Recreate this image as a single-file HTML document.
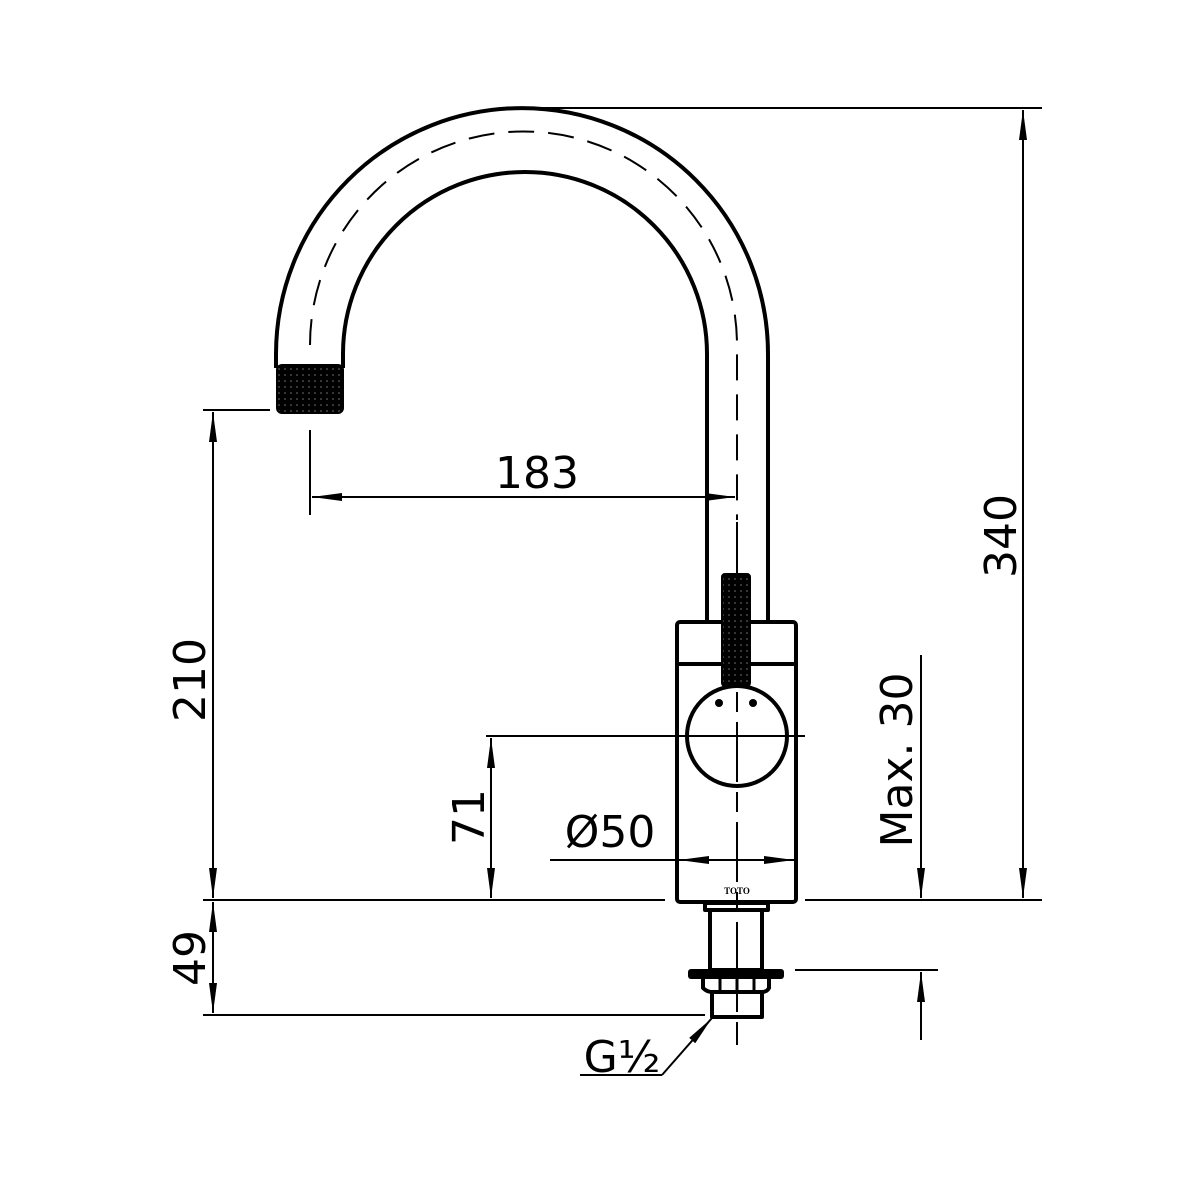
<!DOCTYPE html>
<html><head><meta charset="utf-8"><style>body{margin:0;background:#fff}svg{display:block}</style></head><body>
<svg width="1200" height="1189" viewBox="0 0 1200 1189" xmlns="http://www.w3.org/2000/svg" font-family="DejaVu Sans, Liberation Sans, sans-serif">
<defs>
<pattern id="dots" width="6" height="6" patternUnits="userSpaceOnUse"><rect width="6" height="6" fill="#000"/><circle cx="3" cy="3" r="0.8" fill="#777"/></pattern>
<marker id="ar" viewBox="0 0 30 10" refX="30" refY="5" markerWidth="30" markerHeight="10" markerUnits="userSpaceOnUse" orient="auto-start-reverse"><path d="M0,1 L30,5 L0,9 z" fill="#000"/></marker>
</defs>
<g fill="none" stroke="#000" stroke-width="4" stroke-linejoin="round">
<path d="M276,368 L276,354 A246,246 0 0 1 768,354 L768,622"/>
<path d="M343,368 L343,354 A182,182 0 0 1 707,354 L707,622"/>
</g>
<path d="M310,345 A213.5,213.5 0 0 1 737,345 L737,520" fill="none" stroke="#000" stroke-width="2" stroke-dasharray="26,14"/>
<rect x="277" y="365" width="66" height="48" rx="5" fill="url(#dots)" stroke="#000" stroke-width="2"/>
<rect x="677" y="622" width="119" height="280" rx="3" fill="#fff" stroke="#000" stroke-width="4"/>
<line x1="677" y1="664" x2="796" y2="664" stroke="#000" stroke-width="4"/>
<circle cx="737" cy="736" r="50" fill="#fff" stroke="#000" stroke-width="4"/>
<rect x="722" y="574" width="28" height="112" rx="3" fill="url(#dots)" stroke="#000" stroke-width="2"/>
<circle cx="719" cy="703" r="4" fill="#000"/><circle cx="753" cy="703" r="4" fill="#000"/>
<text x="737" y="894" font-size="9" font-weight="bold" text-anchor="middle" font-family="Liberation Serif, serif">TOTO</text>
<g fill="#fff" stroke="#000" stroke-width="4" stroke-linejoin="round">
<rect x="705" y="903" width="63" height="7"/>
<rect x="710" y="910" width="52" height="60"/>
<rect x="712" y="990" width="50" height="27"/>
<path d="M703,978 L703,988 Q707,992 712,992 L762,992 Q767,992 769,988 L769,978"/>
</g>
<rect x="688" y="969" width="96" height="10" rx="3" fill="#000"/>
<g stroke="#000" stroke-width="3"><line x1="720" y1="979" x2="720" y2="990"/><line x1="737" y1="979" x2="737" y2="990"/><line x1="754" y1="979" x2="754" y2="990"/></g>
<g stroke="#000" stroke-width="2">
<line x1="310" y1="430" x2="310" y2="515"/>
<line x1="737" y1="522" x2="737" y2="1045" stroke-dasharray="60,10,20,10"/>
<line x1="486" y1="736" x2="805" y2="736"/>
<line x1="540" y1="108" x2="1042" y2="108"/>
<line x1="203" y1="410" x2="270" y2="410"/>
<line x1="203" y1="900" x2="665" y2="900"/>
<line x1="805" y1="900" x2="1042" y2="900"/>
<line x1="203" y1="1015" x2="705" y2="1015"/>
<line x1="795" y1="970" x2="938" y2="970"/>
<line x1="1023" y1="110" x2="1023" y2="898" marker-start="url(#ar)" marker-end="url(#ar)"/>
<line x1="213" y1="412" x2="213" y2="898" marker-start="url(#ar)" marker-end="url(#ar)"/>
<line x1="213" y1="902" x2="213" y2="1013" marker-start="url(#ar)" marker-end="url(#ar)"/>
<line x1="491" y1="738" x2="491" y2="898" marker-start="url(#ar)" marker-end="url(#ar)"/>
<line x1="312" y1="497" x2="735" y2="497" marker-start="url(#ar)" marker-end="url(#ar)"/>
<line x1="550" y1="860" x2="679" y2="860"/>
<line x1="679" y1="860" x2="794" y2="860" marker-start="url(#ar)" marker-end="url(#ar)"/>
<line x1="921" y1="655" x2="921" y2="898" marker-end="url(#ar)"/>
<line x1="921" y1="1040" x2="921" y2="972" marker-end="url(#ar)"/>
<line x1="580" y1="1075" x2="662" y2="1075"/>
<line x1="662" y1="1075" x2="712" y2="1018" marker-end="url(#ar)"/>
</g>
<g font-size="44" fill="#000">
<text x="537" y="488" text-anchor="middle">183</text>
<text x="610" y="847" text-anchor="middle">Ø50</text>
<text x="622" y="1072" text-anchor="middle">G½</text>
<text transform="translate(1016,536) rotate(-90)" text-anchor="middle">340</text>
<text transform="translate(205,680) rotate(-90)" text-anchor="middle">210</text>
<text transform="translate(205,958) rotate(-90)" text-anchor="middle">49</text>
<text transform="translate(484,817) rotate(-90)" text-anchor="middle">71</text>
<text transform="translate(912,760) rotate(-90)" text-anchor="middle">Max. 30</text>
</g>
</svg>
</body></html>
